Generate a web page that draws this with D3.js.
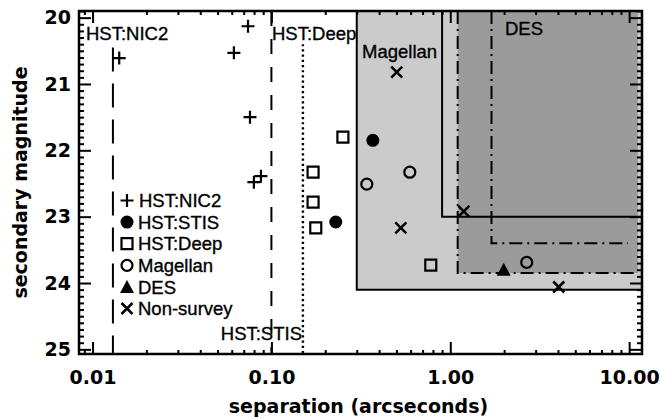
<!DOCTYPE html>
<html>
<head>
<meta charset="utf-8">
<script src="https://cdn.jsdelivr.net/npm/d3@7"></script>
<style>
  body { margin: 0; background: #fff; }
  svg { display: block; }
  .tick text { font-family: "DejaVu Sans", sans-serif; font-weight: bold; font-size: 19px; fill: #000; }
  .note { font-family: "Liberation Sans", Arial, sans-serif; font-size: 18.5px; fill: #000; stroke: #000; stroke-width: 0.35px; }
  .title { font-family: "DejaVu Sans", sans-serif; font-weight: bold; font-size: 19px; fill: #000; }
</style>
</head>
<body>
<svg id="chart" width="660" height="419"></svg>
<script>
// separation (arcsec), secondary magnitude
var nic2 = [[0.0141, 20.61], [0.074, 20.13], [0.0617, 20.53], [0.0759, 21.5], [0.0874, 22.39], [0.0798, 22.48]];
var stis = [[0.369, 21.85], [0.229, 23.08]];
var deep = [[0.251, 21.8], [0.171, 22.33], [0.171, 22.78], [0.177, 23.17], [0.778, 23.73]];
var magellan = [[0.594, 22.33], [0.3415, 22.51], [2.675, 23.69]];
var des = [[1.99, 23.8]];
var nonSurvey = [[0.502, 20.82], [1.19, 22.92], [0.529, 23.17], [4.04, 24.06]];

// survey limits: [min separation, faintest magnitude]
var magellanBox = [0.3, 24.1];
var innerBox = [0.9, 23.0];
var desBox = [1.1, 23.85];
var desBox2 = [1.7, 23.4];
var desRightEdge = 11.2;
// single separation limits: [separation, starting magnitude]
var nic2Limit = [0.013, 20.45];
var stisLimit = [0.1, 19.9];
var deepLimit = [0.15, 20.4];

var xTicks = [0.01, 0.1, 1, 10];
var xTickLabels = ["0.01", "0.10", "1.00", "10.00"];
var yTicks = [20, 21, 22, 23, 24, 25];

var legendNames = ["HST:NIC2", "HST:STIS", "HST:Deep", "Magellan", "DES", "Non-survey"];
var legendKinds = ["plus", "dot", "square", "circle", "triangle", "cross"];

var svg = d3.select("#chart");
var plotL = 79, plotR = 642, plotT = 11, plotB = 354;

var x = d3.scaleLog().domain([0.0084, 11.8]).range([plotL, plotR]);
var y = d3.scaleLinear().domain([19.9, 25.07]).range([plotT, plotB]);

var LIGHT = "#cbcbcb", DARK = "#9b9b9b";

// shaded regions
svg.append("rect")
  .attr("x", x(magellanBox[0])).attr("y", plotT)
  .attr("width", plotR - x(magellanBox[0])).attr("height", y(magellanBox[1]) - plotT)
  .attr("fill", LIGHT);
svg.append("rect")
  .attr("x", x(desBox[0])).attr("y", plotT)
  .attr("width", x(desRightEdge) - x(desBox[0])).attr("height", y(desBox[1]) - plotT)
  .attr("fill", DARK);

function boxEdge(box, dash, xEnd) {
  var x0 = x(box[0]), y0 = y(box[1]);
  svg.append("path")
    .attr("d", `M${x0},${plotT} V${y0} H${xEnd}`)
    .attr("fill", "none")
    .attr("stroke", "#000")
    .attr("stroke-width", 2)
    .attr("stroke-dasharray", dash);
}
boxEdge(magellanBox, null, plotR);
boxEdge(innerBox, null, plotR);
boxEdge(desBox, "13,5,2,5", x(desRightEdge) - 4);
boxEdge(desBox2, "13,5,2,5", x(desRightEdge) - 10);

function limitLine(lim, dash, w) {
  svg.append("line")
    .attr("x1", x(lim[0])).attr("x2", x(lim[0]))
    .attr("y1", y(lim[1])).attr("y2", plotB)
    .attr("stroke", "#000")
    .attr("stroke-width", w || 2)
    .attr("stroke-dasharray", dash);
}
limitLine(nic2Limit, "24,12");
limitLine(stisLimit, "15,13");
limitLine(deepLimit, "2.2,3", 2.4);

// symbols
var symbolPath = {
  plus: "M-6.5,0H6.5M0,-6.5V6.5",
  cross: "M-5.5,-5.5L5.5,5.5M-5.5,5.5L5.5,-5.5",
  square: "M-5.5,-5.5H5.5V5.5H-5.5Z",
  circle: d3.arc()({innerRadius: 0, outerRadius: 5.5, startAngle: 0, endAngle: 2 * Math.PI}),
  dot: d3.arc()({innerRadius: 0, outerRadius: 6.5, startAngle: 0, endAngle: 2 * Math.PI}),
  triangle: "M0,-7L7,6H-7Z"
};
var filled = {dot: true, triangle: true};

function drawSymbols(data, kind) {
  svg.append("g").selectAll("path")
    .data(data)
    .join("path")
    .attr("transform", function(d) { return `translate(${x(d[0])},${y(d[1])})`; })
    .attr("d", symbolPath[kind])
    .attr("fill", filled[kind] ? "#000" : "none")
    .attr("stroke", filled[kind] ? "none" : "#000")
    .attr("stroke-width", kind == "cross" ? 2.5 : 2.2);
}
drawSymbols(nic2, "plus");
drawSymbols(stis, "dot");
drawSymbols(deep, "square");
drawSymbols(magellan, "circle");
drawSymbols(des, "triangle");
drawSymbols(nonSurvey, "cross");

// annotations
function note(txt, px, py, anchor) {
  svg.append("text").attr("class", "note")
    .attr("x", px).attr("y", py)
    .attr("text-anchor", anchor || "start")
    .text(txt);
}
note("HST:NIC2", 86, 40);
note("HST:Deep", 272, 40);
note("Magellan", 362, 58);
note("DES", 505, 35);
note("HST:STIS", 302, 340, "end");

// legend
var legend = svg.append("g").attr("transform", "translate(127,200.5)");
legendNames.forEach(function(name, i) {
  var row = legend.append("g").attr("transform", `translate(0,${i * 21.6})`);
  row.append("path")
    .attr("d", symbolPath[legendKinds[i]])
    .attr("fill", filled[legendKinds[i]] ? "#000" : "none")
    .attr("stroke", filled[legendKinds[i]] ? "none" : "#000")
    .attr("stroke-width", legendKinds[i] == "cross" ? 2.5 : 2.2);
  row.append("text").attr("class", "note")
    .attr("x", i == 0 ? 12 : 11).attr("y", 6.6)
    .text(name);
});

// axes - ticks point inward like IDL
var xMinor = x.ticks().filter(function(t) { return xTicks.indexOf(t) < 0; });
var yMinor = d3.range(199, 251).map(function(v) { return v / 10; })
  .filter(function(v) { return Math.abs(v - Math.round(v)) > 1e-6; });

function addAxis(axis, transform) {
  var g = svg.append("g").attr("transform", transform).call(axis);
  g.select(".domain").remove();
  g.selectAll(".tick line").attr("stroke", "#000").attr("stroke-width", 2);
  return g;
}

var xAxis = addAxis(d3.axisBottom(x).tickValues(xTicks).tickSize(-12)
  .tickFormat(function(d, i) { return xTickLabels[i]; }), `translate(0,${plotB})`);
xAxis.selectAll(".tick text").attr("y", 17).attr("dy", "0.71em");
addAxis(d3.axisBottom(x).tickValues(xMinor).tickSize(-4).tickFormat(""), `translate(0,${plotB})`);
addAxis(d3.axisTop(x).tickValues(xTicks).tickSize(-12).tickFormat(""), `translate(0,${plotT})`);
addAxis(d3.axisTop(x).tickValues(xMinor).tickSize(-4).tickFormat(""), `translate(0,${plotT})`);

var yAxis = addAxis(d3.axisLeft(y).tickValues(yTicks).tickSize(-12).tickFormat(d3.format("d")), `translate(${plotL},0)`);
yAxis.selectAll(".tick text").attr("x", -8);
addAxis(d3.axisLeft(y).tickValues(yMinor).tickSize(-5).tickFormat(""), `translate(${plotL},0)`);
addAxis(d3.axisRight(y).tickValues(yTicks).tickSize(-12).tickFormat(""), `translate(${plotR},0)`);
addAxis(d3.axisRight(y).tickValues(yMinor).tickSize(-5).tickFormat(""), `translate(${plotR},0)`);

svg.append("rect")
  .attr("x", plotL).attr("y", plotT)
  .attr("width", plotR - plotL).attr("height", plotB - plotT)
  .attr("fill", "none").attr("stroke", "#000").attr("stroke-width", 2.5);

svg.append("text").attr("class", "title")
  .attr("x", (plotL + plotR) / 2 - 2).attr("y", 413)
  .attr("text-anchor", "middle")
  .text("separation (arcseconds)");
svg.append("text").attr("class", "title")
  .attr("transform", `translate(27,${(plotT + plotB) / 2}) rotate(-90)`)
  .attr("text-anchor", "middle")
  .text("secondary magnitude");
</script>
</body>
</html>
